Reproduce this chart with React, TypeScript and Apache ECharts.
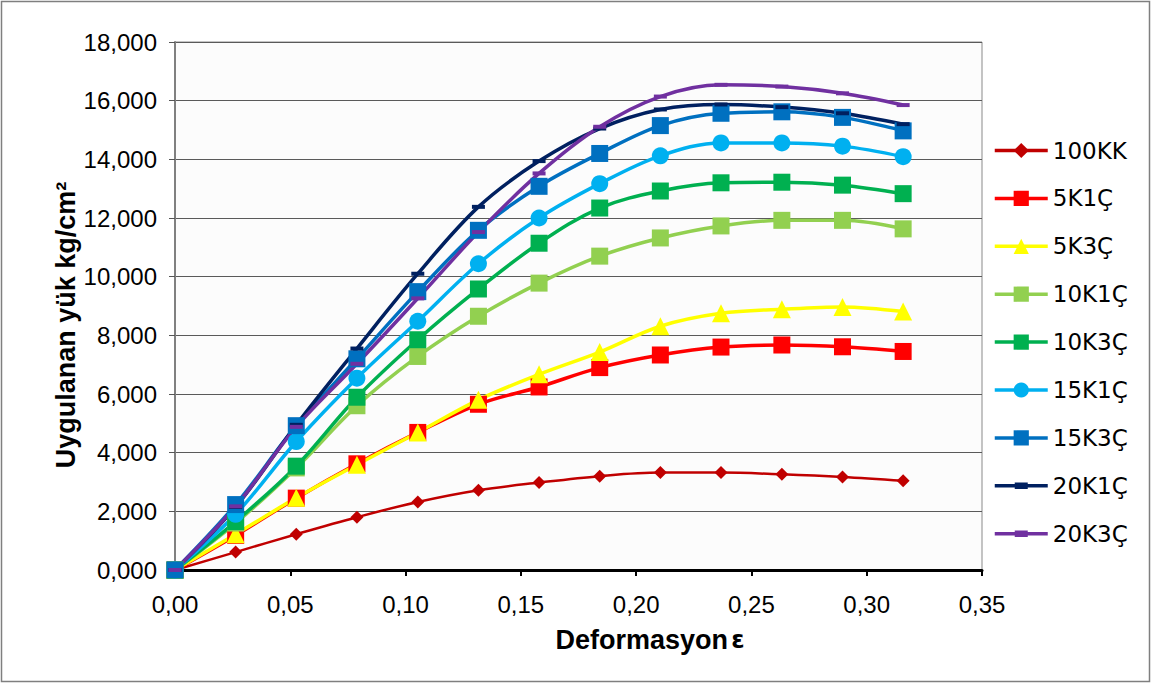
import React, { useEffect, useRef } from "react";
import * as echarts from "echarts";

const strain = [0, 0.0263, 0.0526, 0.0789, 0.1053, 0.1316, 0.1579, 0.1842, 0.2105, 0.2368, 0.2632, 0.2895, 0.3158];

const s100KK = [0, 0.61, 1.22, 1.8, 2.32, 2.72, 2.98, 3.2, 3.32, 3.32, 3.26, 3.17, 3.04];
const s5K1C = [0, 1.18, 2.45, 3.62, 4.69, 5.65, 6.24, 6.9, 7.33, 7.6, 7.67, 7.61, 7.45];
const s5K3C = [0, 1.22, 2.46, 3.59, 4.69, 5.8, 6.67, 7.43, 8.31, 8.75, 8.89, 8.97, 8.81];
const s10K1C = [0, 1.6, 3.48, 5.6, 7.28, 8.65, 9.78, 10.7, 11.32, 11.73, 11.92, 11.92, 11.63];
const s10K3C = [0, 1.65, 3.54, 5.89, 7.85, 9.58, 11.14, 12.34, 12.92, 13.2, 13.22, 13.12, 12.83];
const s15K1C = [0, 1.9, 4.38, 6.54, 8.48, 10.44, 12.0, 13.17, 14.12, 14.56, 14.56, 14.45, 14.09];
const s15K3C = [0, 2.23, 4.92, 7.2, 9.49, 11.58, 13.08, 14.2, 15.15, 15.57, 15.62, 15.43, 14.97];
const s20K1C = [0, 2.15, 4.95, 7.55, 10.1, 12.38, 13.94, 15.05, 15.7, 15.87, 15.78, 15.57, 15.2];
const s20K3C = [0, 2.17, 4.88, 7.03, 9.26, 11.52, 13.52, 15.11, 16.14, 16.54, 16.48, 16.25, 15.85];

const seriesNames = ["100KK", "5K1Ç", "5K3Ç", "10K1Ç", "10K3Ç", "15K1Ç", "15K3Ç", "20K1Ç", "20K3Ç"];
const seriesValues = [s100KK, s5K1C, s5K3C, s10K1C, s10K3C, s15K1C, s15K3C, s20K1C, s20K3C];
const seriesColors = ["#C00000", "#FF0000", "#FFFF00", "#92D050", "#00B050", "#00B0F0", "#0070C0", "#002060", "#7030A0"];
const seriesSymbols = ["diamond", "rect", "triangle", "rect", "rect", "circle", "rect", "rect", "rect"];
const seriesSymbolSizes: any[] = [13, 17, 18, 17, 17, 17, 17, [13, 4], [13, 4]];
const lineWidths = [2.5, 3.5, 3.5, 3.5, 3.5, 3.5, 3.5, 3.5, 3.5];

const dashIcon = "path://M0,7h53v3.5h-53z M20,5.5h13v6.5h-13z";

export default function App() {
  const ref = useRef<HTMLDivElement>(null);
  useEffect(() => {
    if (!ref.current) return;
    const chart = echarts.init(ref.current, null, { renderer: "svg" });
    const series = seriesNames.map((name, i) => ({
      name,
      type: "line",
      data: strain.map((x, j) => [x, seriesValues[i][j]]),
      smooth: 0.35,
      symbol: seriesSymbols[i],
      symbolSize: seriesSymbolSizes[i],
      showAllSymbol: true,
      lineStyle: { color: seriesColors[i], width: lineWidths[i] },
      itemStyle: { color: seriesColors[i] },
      emphasis: { disabled: true },
    }));
    chart.setOption({
      animation: false,
      backgroundColor: "#ffffff",
      grid: {
        left: 175,
        right: 170,
        top: 42,
        bottom: 116,
        show: true,
        backgroundColor: "#fcfcfc",
        borderColor: "#8a8a8a",
        borderWidth: 1,
      },
      legend: {
        orient: "vertical",
        left: 993,
        top: 139,
        padding: 0,
        itemWidth: 53,
        itemHeight: 19,
        itemGap: 24.9,
        lineStyle: { width: 3.5 },
        textStyle: { fontFamily: "DejaVu Sans", fontSize: 23, color: "#000", lineHeight: 19 },
        data: seriesNames.map((n, i) => (i >= 7 ? { name: n, icon: dashIcon } : { name: n })),
      },
      xAxis: {
        type: "value",
        min: 0,
        max: 0.35,
        interval: 0.05,
        splitLine: { show: false },
        axisLine: { show: true, lineStyle: { color: "#000", width: 3 } },
        axisTick: { show: true, length: 6, lineStyle: { color: "#000", width: 2 } },
        axisLabel: {
          fontFamily: "Liberation Sans, Arial",
          fontSize: 24,
          color: "#000",
          margin: 22,
          formatter: (v: number) => v.toFixed(2).replace(".", ","),
        },
      },
      yAxis: {
        type: "value",
        min: 0,
        max: 18,
        interval: 2,
        splitLine: { show: true, lineStyle: { color: "#5a5a5a", width: 1 } },
        axisLine: { show: true, lineStyle: { color: "#808080", width: 2 } },
        axisTick: { show: true, length: 6, lineStyle: { color: "#555", width: 1 } },
        axisLabel: {
          fontFamily: "Liberation Sans, Arial",
          fontSize: 24,
          color: "#000",
          margin: 18,
          formatter: (v: number) => v.toFixed(3).replace(".", ","),
        },
      },
      graphic: [
        {
          type: "rect",
          shape: { x: 1.5, y: 1.5, width: 1148, height: 680 },
          style: { fill: "none", stroke: "#7f7f7f", lineWidth: 1.5 },
          silent: true,
          z: 100,
        },
        {
          type: "text",
          x: 66,
          y: 325,
          rotation: Math.PI / 2,
          style: {
            text: "Uygulanan yük kg/cm²",
            fontFamily: "Liberation Sans, Arial",
            fontWeight: "bold",
            fontSize: 27,
            fill: "#000",
            align: "center",
            verticalAlign: "middle",
          },
        },
        {
          type: "text",
          x: 650,
          y: 640,
          style: {
            text: "{b|Deformasyon} {e|ε}",
            align: "center",
            verticalAlign: "middle",
            rich: {
              b: { fontFamily: "Liberation Sans, Arial", fontWeight: "bold", fontSize: 27, fill: "#000" },
              e: { fontFamily: "DejaVu Sans", fontWeight: "bold", fontSize: 24, fill: "#000" },
            },
          },
        },
      ],
      series,
    });
    return () => chart.dispose();
  }, []);
  return <div ref={ref} style={{ position: "fixed", left: 0, top: 0, width: 1152, height: 686 }} />;
}
